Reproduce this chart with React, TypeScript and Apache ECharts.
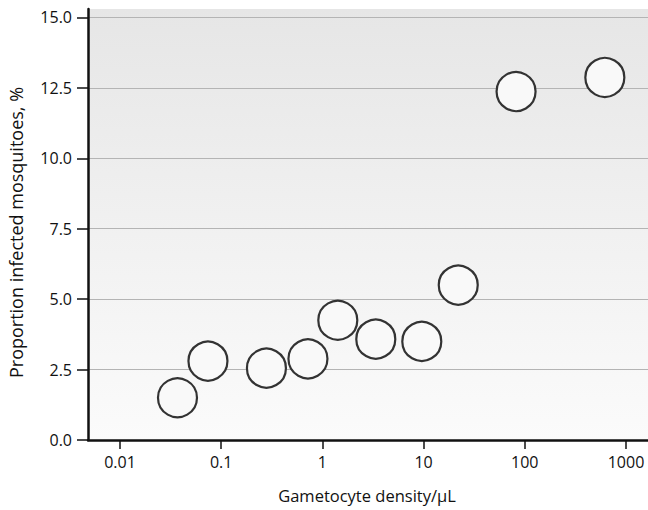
import React, { useEffect, useRef } from "react";
import * as echarts from "echarts";

const densities = [0.037, 0.074, 0.28, 0.72, 1.42, 3.37, 9.6, 22, 82, 618];
const infected = [1.5, 2.8, 2.55, 2.88, 4.25, 3.58, 3.5, 5.5, 12.37, 12.87];
const xTicks = [0.01, 0.1, 1, 10, 100, 1000];
const yTicks = [0, 2.5, 5, 7.5, 10, 12.5, 15];

export default function App() {
  const ref = useRef<HTMLDivElement>(null);
  useEffect(() => {
    if (!ref.current) return;
    const chart = echarts.init(ref.current, undefined, { renderer: "svg" });
    const font = "'Open Sans', 'DejaVu Sans', sans-serif";
    chart.setOption({
      animation: false,
      grid: {
        left: 88,
        right: 0,
        top: 9,
        bottom: 70,
        containLabel: false,
        outerBoundsMode: "none",
        show: true,
        borderWidth: 0,
        backgroundColor: {
          type: "linear",
          x: 0, y: 0, x2: 0, y2: 1,
          colorStops: [
            { offset: 0, color: "#e6e6e6" },
            { offset: 1, color: "#fbfbfb" },
          ],
        },
      },
      xAxis: {
        type: "log",
        logBase: 10,
        min: 0.00483,
        max: 1650,
        name: "Gametocyte density/\u03bcL",
        nameLocation: "middle",
        nameGap: 47,
        nameTextStyle: { color: "#111", fontSize: 16.5, fontFamily: font, padding: [0, 2, 0, 0] },
        axisLine: { lineStyle: { color: "#111", width: 2.5 } },
        axisTick: { customValues: xTicks, length: 9, lineStyle: { color: "#111", width: 1.5 } },
        axisLabel: {
          customValues: xTicks,
          color: "#111",
          fontSize: 16,
          fontFamily: font,
          margin: 14,
          formatter: (v: number) => String(v),
        },
        splitLine: { show: false },
        minorTick: { show: false },
      },
      yAxis: {
        type: "value",
        min: 0,
        max: 15.3,
        name: "Proportion infected mosquitoes, %",
        nameLocation: "middle",
        nameGap: 63,
        nameTextStyle: { color: "#111", fontSize: 18, fontFamily: font, padding: [0, 16, 0, 0] },
        axisLine: { show: true, lineStyle: { color: "#111", width: 2.5 } },
        axisTick: { show: true, customValues: yTicks, length: 11, lineStyle: { color: "#111", width: 1.5 } },
        axisLabel: {
          customValues: yTicks,
          color: "#111",
          fontSize: 16,
          fontFamily: font,
          margin: 16,
          formatter: (v: number) => v.toFixed(1),
        },
        splitLine: { show: true, lineStyle: { color: "#b4b4b4", width: 1.2 } },
      },
      series: [
        {
          type: "scatter",
          data: densities.map((d, i) => [d, infected[i]]),
          symbol: "circle",
          symbolSize: 39,
          itemStyle: { color: "#f9f9f9", borderColor: "#333", borderWidth: 2.2, opacity: 1 },
        },
      ],
    });
    return () => chart.dispose();
  }, []);
  return (
    <div
      ref={ref}
      style={{ position: "fixed", left: 0, top: 0, width: 648, height: 510, background: "#fff" }}
    />
  );
}
